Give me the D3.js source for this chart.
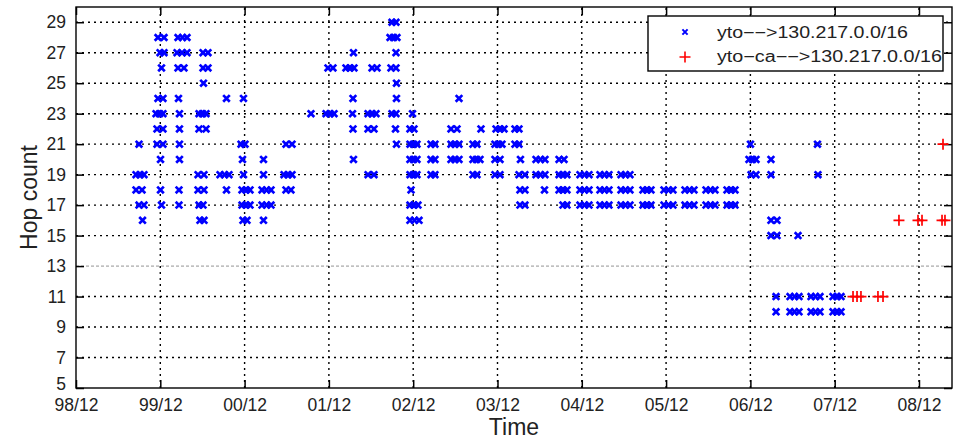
<!DOCTYPE html>
<html><head><meta charset="utf-8">
<script src="https://cdn.jsdelivr.net/npm/d3@7"></script>
<style>
html,body{margin:0;padding:0;background:#fff;}
svg{display:block;font-family:"Liberation Sans",Arial,Helvetica,sans-serif;}
</style></head><body>
<svg id="chart" width="956" height="442"></svg>
<script>
// ---- data (x = months since 1998/12, y = hop count) ----
const xTickMonths = [0,12,24,36,48,60,72,84,96,108,120];
const xTickLabels = ["98/12","99/12","00/12","01/12","02/12","03/12","04/12","05/12","06/12","07/12","08/12"];
const yTickValues = [5,7,9,11,13,15,17,19,21,23,25,27,29];
const seriesNames = ["yto\u2212\u2212>130.217.0.0/16","yto\u2212ca\u2212\u2212>130.217.0.0/16"];

// blue series: [hop, [months...]]
const blueRows = [
  [29, [44.98,45.55]],
  [28, [11.67,12.53,14.52,15.16,15.80,44.70,45.20,45.69]],
  [27, [11.96,12.53,14.38,15.09,15.80,18.08,18.79,39.50,45.55]],
  [26, [12.17,14.52,15.37,18.08,18.79,35.87,36.58,38.43,39.00,39.57,42.14,42.85,44.84,45.55]],
  [25, [18.15,45.62]],
  [24, [11.67,12.38,14.59,21.42,23.84,39.43,45.62,54.52]],
  [23, [11.39,11.89,12.38,14.73,17.51,18.01,18.51,33.45,35.59,36.16,36.73,39.36,41.57,42.14,42.71,44.98,45.55,47.90]],
  [22, [11.53,12.38,14.73,17.51,18.51,39.43,41.57,42.42,45.48,47.54,48.11,53.38,54.24,57.65,59.79,60.36,60.93,62.49,63.06]],
  [21, [8.97,11.53,12.38,14.73,23.49,24.06,29.89,30.75,45.62,47.54,48.04,48.54,50.53,51.10,53.38,53.95,54.52,56.51,57.08,59.64,60.14,60.64,62.49,63.06,96.01,105.55]],
  [20, [12.03,14.73,23.70,26.69,39.50,47.54,48.04,48.54,50.53,51.10,53.38,53.95,54.52,56.51,57.01,57.51,59.64,60.36,63.27,65.48,66.12,66.76,68.76,69.47,95.80,96.30,96.80,98.93]],
  [19, [8.54,9.11,9.68,17.37,18.22,20.50,21.14,21.78,23.84,26.69,29.61,30.18,30.75,41.57,42.42,47.54,48.04,48.54,50.53,51.10,56.51,57.08,59.64,60.36,63.06,63.91,65.48,66.12,66.76,68.76,69.32,69.89,71.74,72.38,73.03,74.59,75.23,75.87,77.58,78.22,78.86,96.09,96.80,98.93,105.62]],
  [18, [8.54,9.40,12.03,14.66,17.37,18.22,21.42,23.63,24.20,24.77,26.48,27.12,27.76,29.89,30.60,47.69,63.20,63.91,66.69,68.76,69.32,69.89,71.74,72.38,73.03,74.59,75.23,75.87,77.58,78.22,78.86,80.71,81.28,81.85,83.70,84.34,84.98,86.69,87.33,87.97,89.68,90.32,90.96,92.67,93.24,93.81]],
  [17, [8.97,9.68,12.17,14.66,17.51,18.08,23.63,24.20,24.77,26.48,27.12,27.76,47.54,48.11,48.68,63.20,63.91,69.32,69.89,71.74,72.38,73.03,74.59,75.23,75.87,77.58,78.22,78.86,80.71,81.28,81.85,83.70,84.34,84.98,86.69,87.33,87.97,89.68,90.32,90.96,92.67,93.24,93.81]],
  [16, [9.47,17.65,18.22,23.77,24.34,26.69,47.54,48.18,48.83,98.93,99.79]],
  [15, [98.93,99.79,102.78]],
  [11, [99.65,101.64,102.28,102.92,104.63,105.27,105.91,107.76,108.33,108.90]],
  [10, [99.65,101.64,102.28,102.92,104.63,105.27,105.91,107.76,108.33,108.90]]
];
// red series: [hop, [months...]]
const redRows = [
  [21, [123.42]],
  [16, [117.15,119.86,120.43,123.28,123.70]],
  [11, [110.61,111.18,111.74,114.16,114.88]]
];

// ---- drawing ----
const svg = d3.select("#chart");
const x = d3.scaleLinear().domain([0,124.7]).range([76,952]);
const y = d3.scaleLinear().domain([5,30]).range([388,7]);
const [x0,x1] = x.range(), [y0,y1] = y.range();

svg.append("rect").attr("width",956).attr("height",442).attr("fill","#fff");

// grid
const grid = svg.append("g").attr("fill","none");
grid.selectAll("line.h").data(yTickValues.filter(v=>v>5)).join("line")
  .attr("x1",x0).attr("x2",x1).attr("y1",d=>y(d)).attr("y2",d=>y(d))
  .attr("stroke",d=>d===13?"#777":"#000").attr("stroke-width",d=>d===13?0.8:1.4)
  .attr("stroke-dasharray",d=>d===13?"3,2":"2,4");
grid.selectAll("line.v").data(xTickMonths.filter(v=>v>0)).join("line")
  .attr("y1",y0).attr("y2",y1).attr("x1",d=>x(d)).attr("x2",d=>x(d))
  .attr("stroke","#000").attr("stroke-width",1.4).attr("stroke-dasharray","2,4");

// axes
const fs = "17.5px";
const gB = svg.append("g").attr("transform",`translate(0,${y0})`)
  .call(d3.axisBottom(x).tickValues(xTickMonths).tickFormat((d,i)=>xTickLabels[i]).tickSizeInner(-8).tickSizeOuter(0).tickPadding(11));
const gT = svg.append("g").attr("transform",`translate(0,${y1})`)
  .call(d3.axisTop(x).tickValues(xTickMonths).tickFormat("").tickSizeInner(-8).tickSizeOuter(0));
const gL = svg.append("g").attr("transform",`translate(${x0},0)`)
  .call(d3.axisLeft(y).tickValues(yTickValues).tickSizeInner(-8).tickSizeOuter(0).tickPadding(10));
const gR = svg.append("g").attr("transform",`translate(${x1},0)`)
  .call(d3.axisRight(y).tickValues(yTickValues).tickFormat("").tickSizeInner(-8).tickSizeOuter(0));
[gB,gT,gL,gR].forEach(g=>{
  g.select(".domain").remove();
  g.selectAll(".tick line").attr("stroke","#000").attr("stroke-width",1.5);
  g.selectAll(".tick text").attr("fill","#222").style("font-size",fs).style("font-family","'Liberation Sans',Arial,sans-serif");
});
// lowest y label sits slightly higher so it clears the x labels
gL.selectAll(".tick text").filter(d=>d===5).attr("dy","0.1em");

// frame
svg.append("rect").attr("x",x0).attr("y",y1).attr("width",x1-x0).attr("height",y0-y1)
  .attr("fill","none").attr("stroke","#000").attr("stroke-width",1.4);

// markers
const xPath = "M-3.3,-3.3L3.3,3.3M-3.3,3.3L3.3,-3.3";
const plusPath = "M-5.5,0L5.5,0M0,-5.5L0,5.5";
const bluePts = blueRows.flatMap(([h,ms])=>ms.map(m=>({m,h})));
const redPts = redRows.flatMap(([h,ms])=>ms.map(m=>({m,h})));
svg.append("g").selectAll("path").data(bluePts).join("path")
  .attr("d",xPath).attr("transform",d=>`translate(${x(d.m)},${y(d.h)})`)
  .attr("stroke","#0000ff").attr("stroke-width",2.7).attr("fill","none");
svg.append("g").selectAll("path").data(redPts).join("path")
  .attr("d",plusPath).attr("transform",d=>`translate(${x(d.m)},${y(d.h)})`)
  .attr("stroke","#ff0000").attr("stroke-width",1.7).attr("fill","none");

// legend
const lg = svg.append("g");
lg.append("rect").attr("x",648).attr("y",16).attr("width",295).attr("height",55)
  .attr("fill","#fff").attr("stroke","#000").attr("stroke-width",1.4);
lg.append("path").attr("d","M-2.6,-2.6L2.6,2.6M-2.6,2.6L2.6,-2.6").attr("transform","translate(685,32)")
  .attr("stroke","#0000ff").attr("stroke-width",2).attr("fill","none");
lg.append("path").attr("d",plusPath).attr("transform","translate(685,57)")
  .attr("stroke","#ff0000").attr("stroke-width",1.6).attr("fill","none");
lg.append("text").attr("x",717).attr("y",37.5).text(seriesNames[0])
  .attr("textLength",191).attr("lengthAdjust","spacingAndGlyphs")
  .style("font-size","16px").attr("fill","#222");
lg.append("text").attr("x",717).attr("y",61.5).text(seriesNames[1])
  .attr("textLength",225).attr("lengthAdjust","spacingAndGlyphs")
  .style("font-size","16px").attr("fill","#222");

// axis titles
svg.append("text").attr("x",(x0+x1)/2).attr("y",435).attr("text-anchor","middle")
  .style("font-size","23px").attr("fill","#222").text("Time");
svg.append("text").attr("transform",`translate(36.5,${(y0+y1)/2}) rotate(-90)`).attr("text-anchor","middle")
  .style("font-size","23px").attr("fill","#222").text("Hop count");
</script>
</body></html>
